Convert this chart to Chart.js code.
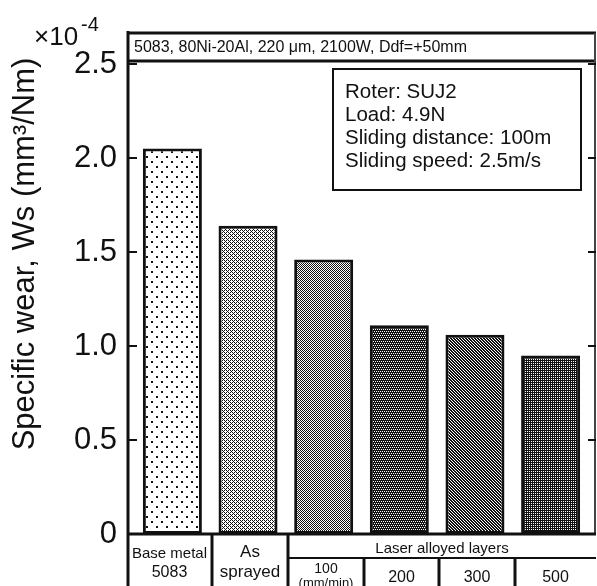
<!DOCTYPE html>
<html>
<head>
<meta charset="utf-8">
<script src="https://cdn.jsdelivr.net/npm/chart.js@4/dist/chart.umd.min.js"></script>
<style>
  html, body { margin: 0; padding: 0; background: #fff; }
</style>
</head>
<body>
<canvas id="chart" width="597" height="586"></canvas>
<script>
const barPos     = [0, 1, 2, 3, 4, 5];
const barValues  = [2.05, 1.64, 1.46, 1.11, 1.06, 0.95];
const yTicks     = [0, 0.5, 1.0, 1.5, 2.0, 2.5];
const headLabels = ['Base metal', 'As', 'Laser alloyed layers'];
const subLabels  = ['5083', 'sprayed', '100', '200', '300', '500'];
const unitLabel  = '(mm/min)';
const titleText  = '5083, 80Ni-20Al, 220 \u03bcm, 2100W, Ddf=+50mm';
const noteLines  = ['Roter: SUJ2', 'Load: 4.9N', 'Sliding distance: 100m', 'Sliding speed: 2.5m/s'];
const yTitle     = 'Specific wear, Ws (mm\u00b3/Nm)';

const INK  = '#111';
const FONT = '"Liberation Sans", Arial, Helvetica, sans-serif';
const f = (size) => `${size}px ${FONT}`;

// screen tones for the bars, 'x' = ink
function tone(rows) {
  const c = document.createElement('canvas');
  c.width = rows[0].length;
  c.height = rows.length;
  const g = c.getContext('2d');
  g.fillStyle = '#fff';
  g.fillRect(0, 0, c.width, c.height);
  g.fillStyle = INK;
  rows.forEach((r, y) => [...r].forEach((ch, x) => {
    if (ch === 'x') g.fillRect(x, y, 1, 1);
  }));
  return g.createPattern(c, 'repeat');
}

const fills = [
  tone(['..........', '.xx.......', '.xx.......', '..........', '..........',
        '..........', '......xx..', '......xx..', '..........', '..........']),
  tone(['x.x.', '.x..', 'x.x.', '...x']),
  tone(['x.', '.x']),
  tone(['xxxx', 'x.x.', 'xxxx', '.x.x']),
  tone(['.xx', 'x.x', 'xx.']),
  tone(['xx', 'x.'])
];

function line(ctx, x1, y1, x2, y2, w) {
  ctx.lineWidth = w;
  ctx.beginPath();
  ctx.moveTo(x1, y1);
  ctx.lineTo(x2, y2);
  ctx.stroke();
}

const frame = {
  id: 'frame',
  afterDraw(chart) {
    const { ctx, chartArea: a, scales: { x, y } } = chart;
    const L = a.left, R = a.right, B = a.bottom;
    const H = chart.height;
    ctx.save();
    ctx.strokeStyle = INK;
    ctx.fillStyle = INK;

    // axis title
    ctx.save();
    ctx.translate(34, 254);
    ctx.rotate(-Math.PI / 2);
    ctx.font = f(31);
    ctx.textAlign = 'center';
    ctx.textBaseline = 'alphabetic';
    ctx.fillText(yTitle, 0, 0);
    ctx.restore();

    // x10^-4 multiplier
    ctx.textAlign = 'left';
    ctx.textBaseline = 'alphabetic';
    ctx.font = f(26);
    ctx.fillText('\u00d710', 34, 45);
    ctx.font = f(20);
    ctx.fillText('-4', 81, 31);

    // title strip
    line(ctx, L, 33, R, 33, 3);
    line(ctx, L, 61, R, 61, 3);
    ctx.font = f(16);
    ctx.fillText(titleText, L + 7, 52);

    // frame + inward ticks
    line(ctx, L + 1, 31, L + 1, H, 3);
    ctx.strokeStyle = '#444';
    line(ctx, R - 1, 33, R - 1, B, 2);
    ctx.strokeStyle = INK;
    yTicks.slice(1).forEach(v => {
      const py = Math.round(y.getPixelForValue(v));
      line(ctx, L, py, L + 10, py, 2);
      line(ctx, R - 8, py, R, py, 2);
    });
    line(ctx, L, B, R, B, 3);

    // conditions box
    ctx.lineWidth = 2;
    ctx.strokeRect(333, 69, 248, 121);
    ctx.font = f(20.5);
    noteLines.forEach((t, i) => ctx.fillText(t, 345, 98 + i * 23));

    // table under the bars
    const div = (i) => Math.round(x.getPixelForValue(i + 0.5)) + 2;
    line(ctx, div(0), B, div(0), H, 3);
    line(ctx, div(1), B, div(1), H, 3);
    line(ctx, div(1), B + 24, R, B + 24, 2);
    [2, 3, 4].forEach(i => line(ctx, div(i), B + 24, div(i), H, 3));

    ctx.textAlign = 'center';
    const mid = (a1, b1) => (a1 + b1) / 2;
    ctx.font = f(15);
    ctx.fillText(headLabels[0], mid(L, div(0)), B + 24);
    ctx.font = f(16);
    ctx.fillText(subLabels[0], mid(L, div(0)), B + 43);
    ctx.font = f(17);
    ctx.fillText(headLabels[1], mid(div(0), div(1)), B + 23);
    ctx.fillText(subLabels[1], mid(div(0), div(1)), B + 43);
    ctx.font = f(15);
    ctx.fillText(headLabels[2], mid(div(1), R), B + 19);
    ctx.font = f(14);
    ctx.fillText(subLabels[2], mid(div(1), div(2)), B + 39);
    ctx.font = f(13);
    ctx.fillText(unitLabel, mid(div(1), div(2)), B + 53);
    ctx.font = f(16);
    ctx.fillText(subLabels[3], mid(div(2), div(3)), B + 48);
    ctx.fillText(subLabels[4], mid(div(3), div(4)), B + 48);
    ctx.fillText(subLabels[5], mid(div(4), R), B + 48);
    ctx.restore();
  }
};

new Chart(document.getElementById('chart').getContext('2d'), {
  type: 'bar',
  data: {
    datasets: [{
      data: barPos.map((p, i) => ({ x: p, y: barValues[i] })),
      backgroundColor: fills,
      borderColor: INK,
      borderWidth: 3,
      borderSkipped: false,
      barPercentage: 0.78,
      categoryPercentage: 1
    }]
  },
  options: {
    responsive: false,
    animation: false,
    layout: { padding: { top: 64, right: 1, bottom: 52, left: 0 } },
    plugins: { legend: { display: false }, tooltip: { enabled: false } },
    scales: {
      x: {
        type: 'linear', min: -0.6, max: 5.6, offset: false, display: false,
        afterBuildTicks: s => { s.ticks = barPos.map(v => ({ value: v })); }
      },
      y: {
        min: 0,
        max: 2.5,
        afterFit: s => { s.width = 127; },
        afterBuildTicks: s => { s.ticks = yTicks.map(v => ({ value: v })); },
        ticks: {
          padding: 2,
          color: INK,
          font: { family: FONT, size: 31 },
          callback: v => v === 0 ? '0' : v.toFixed(1)
        },
        grid: { display: false },
        border: { display: false }
      }
    }
  },
  plugins: [frame]
});
</script>
</body>
</html>
